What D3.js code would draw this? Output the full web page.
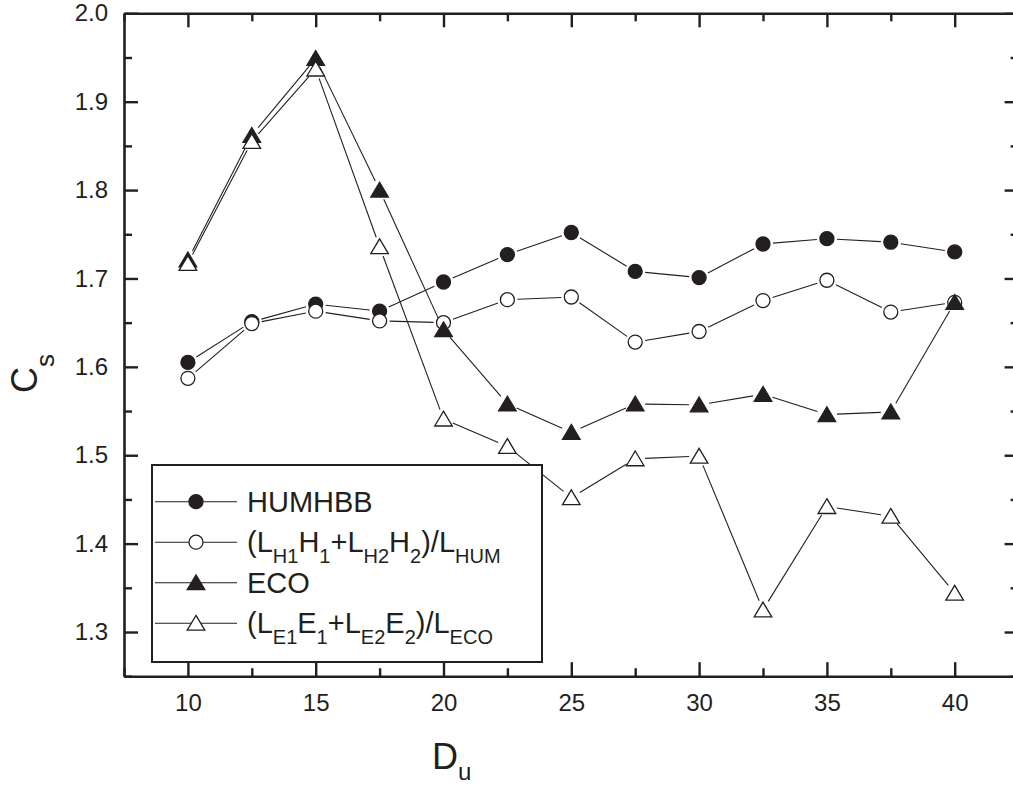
<!DOCTYPE html>
<html><head><meta charset="utf-8">
<script src="https://cdn.jsdelivr.net/npm/d3@7"></script>
<style>
html,body{margin:0;padding:0;background:#fff;}
svg{display:block;font-family:"Liberation Sans",Arial,sans-serif;}
</style></head>
<body>
<svg id="chart" width="1013" height="788"></svg>
<script>
const du = [10, 12.5, 15, 17.5, 20, 22.5, 25, 27.5, 30, 32.5, 35, 37.5, 40];
const humhbb = [1.605, 1.651, 1.671, 1.663, 1.696, 1.727, 1.752, 1.708, 1.701, 1.739, 1.745, 1.741, 1.730];
const humWeighted = [1.587, 1.649, 1.663, 1.652, 1.650, 1.676, 1.679, 1.628, 1.640, 1.675, 1.698, 1.662, 1.673];
const eco = [1.721, 1.862, 1.949, 1.800, 1.642, 1.558, 1.526, 1.558, 1.557, 1.569, 1.546, 1.549, 1.673];
const ecoWeighted = [1.717, 1.855, 1.937, 1.736, 1.541, 1.510, 1.452, 1.496, 1.499, 1.325, 1.442, 1.431, 1.344];
const xTicks = [10, 15, 20, 25, 30, 35, 40];
const yTicks = [1.3, 1.4, 1.5, 1.6, 1.7, 1.8, 1.9, 2.0];

const svg = d3.select("#chart");
const L = 124, R = 1018.6, T = 13.3, B = 676.2;
const ink = "#231f20";
const x = d3.scaleLinear().domain([7.5, 42.5]).range([L, R]);
const y = d3.scaleLinear().domain([1.25, 2.0]).range([B, T]);

const series = [
  {name: "humhbb", vals: humhbb, shape: "circle", fill: true},
  {name: "humW", vals: humWeighted, shape: "circle", fill: false},
  {name: "eco", vals: eco, shape: "tri", fill: true},
  {name: "ecoW", vals: ecoWeighted, shape: "tri", fill: false}
];

function marker(g, shape, fill, cx, cy) {
  if (shape === "circle") {
    g.append("circle").attr("cx", cx).attr("cy", cy).attr("r", 7)
      .attr("fill", fill ? ink : "#fff").attr("stroke", ink).attr("stroke-width", 1.3);
  } else {
    const p = d3.path();
    p.moveTo(cx, cy - 7.8); p.lineTo(cx + 8.8, cy + 7); p.lineTo(cx - 8.8, cy + 7); p.closePath();
    g.append("path").attr("d", p.toString())
      .attr("fill", fill ? ink : "#fff").attr("stroke", ink).attr("stroke-width", 1.3).attr("stroke-linejoin", "miter");
  }
}

// series lines with gaps near markers
const gap = 10;
series.forEach(s => {
  const g = svg.append("g");
  const pts = du.map((d, i) => [x(d), y(s.vals[i])]);
  for (let i = 0; i < pts.length - 1; i++) {
    const [x1, y1] = pts[i], [x2, y2] = pts[i + 1];
    const len = Math.hypot(x2 - x1, y2 - y1);
    if (len <= 2 * gap) continue;
    const ux = (x2 - x1) / len, uy = (y2 - y1) / len;
    g.append("line")
      .attr("x1", x1 + ux * gap).attr("y1", y1 + uy * gap)
      .attr("x2", x2 - ux * gap).attr("y2", y2 - uy * gap)
      .attr("stroke", ink).attr("stroke-width", 1.1);
  }
});
series.forEach(s => {
  const g = svg.append("g");
  du.forEach((d, i) => marker(g, s.shape, s.fill, x(d), y(s.vals[i])));
});

// axes
const minorX = d3.range(7.5, 42.51, 2.5).filter(v => !xTicks.includes(v));
const minorY = d3.range(1.25, 2.001, 0.05).map(v => +v.toFixed(2)).filter(v => !yTicks.some(t => Math.abs(t - v) < 1e-6));

function styleAxis(g) {
  g.selectAll("path.domain").attr("stroke", ink).attr("stroke-width", 2.6);
  g.selectAll(".tick line").attr("stroke", ink).attr("stroke-width", 2.4);
  g.selectAll(".tick text").attr("fill", ink).style("font-size", "24px").style("font-family", "'Liberation Sans', Arial, sans-serif");
}

svg.append("g").attr("transform", `translate(0,${B})`)
  .call(d3.axisBottom(x).tickValues(xTicks).tickFormat(d3.format("d")).tickSizeInner(-14).tickSizeOuter(0).tickPadding(18))
  .call(styleAxis);
svg.append("g").attr("transform", `translate(0,${B})`)
  .call(d3.axisBottom(x).tickValues(minorX).tickFormat("").tickSizeInner(-8).tickSizeOuter(0))
  .call(styleAxis).select(".domain").remove();

svg.append("g").attr("transform", `translate(0,${T})`)
  .call(d3.axisTop(x).tickValues(xTicks).tickFormat("").tickSizeInner(-14).tickSizeOuter(0))
  .call(styleAxis);
svg.append("g").attr("transform", `translate(0,${T})`)
  .call(d3.axisTop(x).tickValues(minorX).tickFormat("").tickSizeInner(-8).tickSizeOuter(0))
  .call(styleAxis).select(".domain").remove();

svg.append("g").attr("transform", `translate(${L},0)`)
  .call(d3.axisLeft(y).tickValues(yTicks).tickFormat(d3.format(".1f")).tickSizeInner(-14).tickSizeOuter(0).tickPadding(16))
  .call(styleAxis);
svg.append("g").attr("transform", `translate(${L},0)`)
  .call(d3.axisLeft(y).tickValues(minorY).tickFormat("").tickSizeInner(-8).tickSizeOuter(0))
  .call(styleAxis).select(".domain").remove();

svg.append("g").attr("transform", `translate(${R},0)`)
  .call(d3.axisRight(y).tickValues(yTicks).tickFormat("").tickSizeInner(-14).tickSizeOuter(0))
  .call(styleAxis);
svg.append("g").attr("transform", `translate(${R},0)`)
  .call(d3.axisRight(y).tickValues(minorY).tickFormat("").tickSizeInner(-8).tickSizeOuter(0))
  .call(styleAxis).select(".domain").remove();

// axis titles
const yt = svg.append("text").attr("transform", "translate(37,393) rotate(-90)")
  .attr("fill", ink).style("font-size", "36px");
yt.append("tspan").text("C");
yt.append("tspan").attr("dy", 17).style("font-size", "26px").text("s");

const xt = svg.append("text").attr("x", 432).attr("y", 769)
  .attr("fill", ink).style("font-size", "36px");
xt.append("tspan").text("D");
xt.append("tspan").attr("dy", 11).style("font-size", "24px").text("u");

// legend
const lg = svg.append("g");
lg.append("rect").attr("x", 152).attr("y", 465).attr("width", 390).attr("height", 197)
  .attr("fill", "#fff").attr("stroke", ink).attr("stroke-width", 2);
const legendLabels = [
  [["HUMHBB", false]],
  [["(L", false], ["H1", true], ["H", false], ["1", true], ["+L", false], ["H2", true], ["H", false], ["2", true], [")/L", false], ["HUM", true]],
  [["ECO", false]],
  [["(L", false], ["E1", true], ["E", false], ["1", true], ["+L", false], ["E2", true], ["E", false], ["2", true], [")/L", false], ["ECO", true]]
];
const rowY = [501.7, 542.2, 582.7, 623.2];
const subDy = 11;
series.forEach((s, i) => {
  const cy = rowY[i];
  lg.append("line").attr("x1", 155).attr("x2", 237).attr("y1", cy).attr("y2", cy)
    .attr("stroke", ink).attr("stroke-width", 1.1);
  marker(lg, s.shape, s.fill, 196, cy);
  const t = lg.append("text").attr("x", 247).attr("y", cy + 10).attr("fill", ink).style("font-size", "29px");
  let sub = false;
  legendLabels[i].forEach(([txt, isSub]) => {
    const ts = t.append("tspan").text(txt);
    if (isSub) {
      ts.style("font-size", "20px");
      if (!sub) { ts.attr("dy", subDy); sub = true; }
    } else if (sub) { ts.attr("dy", -subDy); sub = false; }
  });
});
</script>
</body></html>
